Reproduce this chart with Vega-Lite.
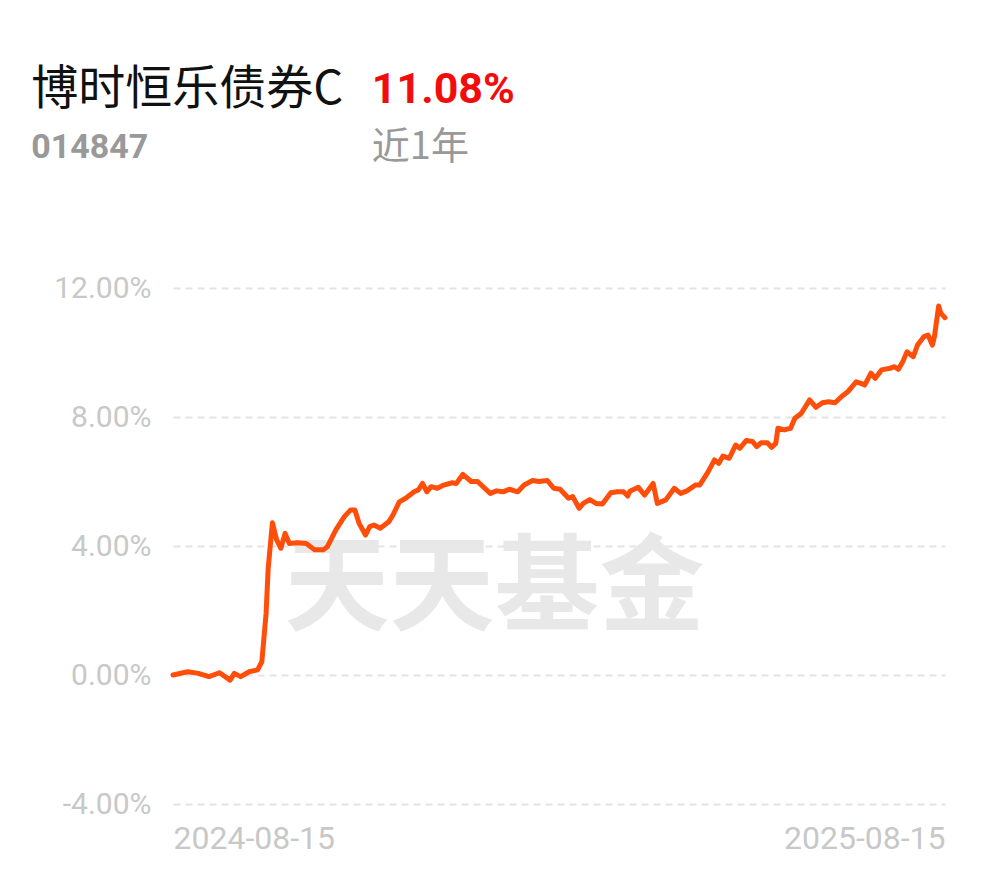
{
  "$schema": "https://vega.github.io/schema/vega-lite/v6.json",
  "autosize": "none",
  "width": 772,
  "height": 516,
  "padding": {"left": 173, "top": 288, "right": 45, "bottom": 74},
  "background": "#ffffff",
  "config": {"view": {"stroke": null}, "font": "Roboto"},
  "layer": [
    {
      "data": {"values": [{"label": "天天基金"}]},
      "mark": {"type": "text", "fontSize": 105, "fontWeight": "bold", "font": "Noto Sans CJK SC", "color": "#e8e8e8", "align": "center", "baseline": "middle"},
      "encoding": {
        "x": {"datum": {"year": 2025, "month": 1, "date": 14, "utc": true}, "type": "temporal"},
        "y": {"datum": 2.65, "type": "quantitative"},
        "text": {"field": "label"}
      }
    },
    {
      "data": {"values": [
        {"date": "2024-08-15", "value": 0.00},
        {"date": "2024-08-22", "value": 0.10},
        {"date": "2024-08-27", "value": 0.05},
        {"date": "2024-09-01", "value": -0.05},
        {"date": "2024-09-06", "value": 0.07},
        {"date": "2024-09-11", "value": -0.16},
        {"date": "2024-09-13", "value": 0.05},
        {"date": "2024-09-16", "value": -0.05},
        {"date": "2024-09-20", "value": 0.10},
        {"date": "2024-09-24", "value": 0.16},
        {"date": "2024-09-26", "value": 0.41},
        {"date": "2024-09-28", "value": 1.90},
        {"date": "2024-09-29", "value": 3.30},
        {"date": "2024-10-01", "value": 4.72},
        {"date": "2024-10-03", "value": 4.19},
        {"date": "2024-10-05", "value": 3.93},
        {"date": "2024-10-07", "value": 4.39},
        {"date": "2024-10-09", "value": 4.08},
        {"date": "2024-10-13", "value": 4.10},
        {"date": "2024-10-17", "value": 4.08},
        {"date": "2024-10-21", "value": 3.88},
        {"date": "2024-10-25", "value": 3.88},
        {"date": "2024-10-27", "value": 3.98},
        {"date": "2024-10-31", "value": 4.50},
        {"date": "2024-11-04", "value": 4.91},
        {"date": "2024-11-07", "value": 5.12},
        {"date": "2024-11-09", "value": 5.12},
        {"date": "2024-11-11", "value": 4.70},
        {"date": "2024-11-14", "value": 4.34},
        {"date": "2024-11-16", "value": 4.60},
        {"date": "2024-11-18", "value": 4.65},
        {"date": "2024-11-21", "value": 4.55},
        {"date": "2024-11-25", "value": 4.75},
        {"date": "2024-11-27", "value": 4.96},
        {"date": "2024-11-30", "value": 5.37},
        {"date": "2024-12-03", "value": 5.48},
        {"date": "2024-12-07", "value": 5.68},
        {"date": "2024-12-09", "value": 5.74},
        {"date": "2024-12-11", "value": 5.94},
        {"date": "2024-12-13", "value": 5.68},
        {"date": "2024-12-15", "value": 5.84},
        {"date": "2024-12-18", "value": 5.79},
        {"date": "2024-12-21", "value": 5.89},
        {"date": "2024-12-25", "value": 5.96},
        {"date": "2024-12-27", "value": 5.94},
        {"date": "2024-12-30", "value": 6.22},
        {"date": "2025-01-03", "value": 6.00},
        {"date": "2025-01-06", "value": 6.00},
        {"date": "2025-01-12", "value": 5.63},
        {"date": "2025-01-15", "value": 5.71},
        {"date": "2025-01-18", "value": 5.68},
        {"date": "2025-01-21", "value": 5.76},
        {"date": "2025-01-25", "value": 5.68},
        {"date": "2025-01-28", "value": 5.89},
        {"date": "2025-02-01", "value": 6.03},
        {"date": "2025-02-04", "value": 6.00},
        {"date": "2025-02-08", "value": 6.03},
        {"date": "2025-02-11", "value": 5.79},
        {"date": "2025-02-14", "value": 5.76},
        {"date": "2025-02-18", "value": 5.48},
        {"date": "2025-02-20", "value": 5.53},
        {"date": "2025-02-23", "value": 5.17},
        {"date": "2025-02-25", "value": 5.32},
        {"date": "2025-02-28", "value": 5.44},
        {"date": "2025-03-03", "value": 5.32},
        {"date": "2025-03-06", "value": 5.30},
        {"date": "2025-03-10", "value": 5.65},
        {"date": "2025-03-13", "value": 5.68},
        {"date": "2025-03-16", "value": 5.68},
        {"date": "2025-03-18", "value": 5.55},
        {"date": "2025-03-19", "value": 5.70},
        {"date": "2025-03-23", "value": 5.82},
        {"date": "2025-03-26", "value": 5.58},
        {"date": "2025-03-30", "value": 5.94},
        {"date": "2025-04-01", "value": 5.32},
        {"date": "2025-04-05", "value": 5.43},
        {"date": "2025-04-09", "value": 5.79},
        {"date": "2025-04-12", "value": 5.63},
        {"date": "2025-04-15", "value": 5.71},
        {"date": "2025-04-19", "value": 5.89},
        {"date": "2025-04-21", "value": 5.89},
        {"date": "2025-04-25", "value": 6.30},
        {"date": "2025-04-28", "value": 6.67},
        {"date": "2025-04-30", "value": 6.56},
        {"date": "2025-05-02", "value": 6.79},
        {"date": "2025-05-05", "value": 6.72},
        {"date": "2025-05-08", "value": 7.13},
        {"date": "2025-05-10", "value": 7.03},
        {"date": "2025-05-13", "value": 7.27},
        {"date": "2025-05-16", "value": 7.24},
        {"date": "2025-05-18", "value": 7.08},
        {"date": "2025-05-20", "value": 7.20},
        {"date": "2025-05-23", "value": 7.20},
        {"date": "2025-05-25", "value": 7.06},
        {"date": "2025-05-27", "value": 7.18},
        {"date": "2025-05-28", "value": 7.65},
        {"date": "2025-05-31", "value": 7.60},
        {"date": "2025-06-03", "value": 7.65},
        {"date": "2025-06-05", "value": 7.96},
        {"date": "2025-06-08", "value": 8.11},
        {"date": "2025-06-12", "value": 8.53},
        {"date": "2025-06-15", "value": 8.30},
        {"date": "2025-06-18", "value": 8.44},
        {"date": "2025-06-21", "value": 8.47},
        {"date": "2025-06-24", "value": 8.44},
        {"date": "2025-06-27", "value": 8.63},
        {"date": "2025-06-30", "value": 8.78},
        {"date": "2025-07-04", "value": 9.09},
        {"date": "2025-07-06", "value": 9.05},
        {"date": "2025-07-08", "value": 8.99},
        {"date": "2025-07-11", "value": 9.36},
        {"date": "2025-07-13", "value": 9.20},
        {"date": "2025-07-16", "value": 9.46},
        {"date": "2025-07-20", "value": 9.51},
        {"date": "2025-07-22", "value": 9.56},
        {"date": "2025-07-24", "value": 9.48},
        {"date": "2025-07-26", "value": 9.71},
        {"date": "2025-07-28", "value": 10.02},
        {"date": "2025-07-31", "value": 9.87},
        {"date": "2025-08-02", "value": 10.23},
        {"date": "2025-08-05", "value": 10.49},
        {"date": "2025-08-07", "value": 10.54},
        {"date": "2025-08-09", "value": 10.23},
        {"date": "2025-08-10", "value": 10.49},
        {"date": "2025-08-12", "value": 11.44},
        {"date": "2025-08-13", "value": 11.22},
        {"date": "2025-08-15", "value": 11.08}
      ]},
      "mark": {"type": "line", "color": "#ff4d0a", "strokeWidth": 5, "strokeJoin": "round", "strokeCap": "round"},
      "encoding": {
        "x": {
          "field": "date",
          "type": "temporal",
          "scale": {"type": "utc", "domain": [{"year": 2024, "month": 8, "date": 15, "utc": true}, {"year": 2025, "month": 8, "date": 15, "utc": true}]},
          "axis": {
            "title": null,
            "values": [{"year": 2024, "month": 8, "date": 15, "utc": true}, {"year": 2025, "month": 8, "date": 15, "utc": true}],
            "labelExpr": "utcFormat(datum.value, '%Y-%m-%d')",
            "labelFlush": true,
            "grid": false,
            "domain": false,
            "ticks": false,
            "labelFont": "Roboto",
            "labelFontSize": 32,
            "labelColor": "#c8c8c8",
            "labelPadding": 19
          }
        },
        "y": {
          "field": "value",
          "type": "quantitative",
          "scale": {"domain": [-4, 12], "nice": false, "zero": false},
          "axis": {
            "title": null,
            "values": [-4, 0, 4, 8, 12],
            "labelExpr": "(datum.value < 0 ? '-' : '') + format(abs(datum.value), '.2f') + '%'",
            "grid": true,
            "gridDash": [7, 5],
            "gridColor": "#e4e4e4",
            "gridWidth": 2,
            "domain": false,
            "ticks": false,
            "labelFont": "Roboto",
            "labelFontSize": 30,
            "labelColor": "#c8c8c8",
            "labelPadding": 22
          }
        }
      }
    },
    {
      "data": {"values": [{"label": "博时恒乐债券C"}]},
      "mark": {"type": "text", "fontSize": 47, "font": "Noto Sans CJK SC", "color": "#111111", "align": "left", "baseline": "alphabetic"},
      "encoding": {
        "x": {"datum": {"year": 2024, "month": 6, "date": 9, "utc": true}, "type": "temporal"},
        "y": {"datum": 17.7, "type": "quantitative"},
        "text": {"field": "label"}
      }
    },
    {
      "data": {"values": [{"label": "11.08%"}]},
      "mark": {"type": "text", "fontSize": 43, "fontWeight": "bold", "font": "Roboto", "color": "#f20d0d", "align": "left", "baseline": "alphabetic"},
      "encoding": {
        "x": {"datum": {"year": 2024, "month": 11, "date": 17, "utc": true}, "type": "temporal"},
        "y": {"datum": 17.75, "type": "quantitative"},
        "text": {"field": "label"}
      }
    },
    {
      "data": {"values": [{"label": "014847"}]},
      "mark": {"type": "text", "fontSize": 34, "fontWeight": "bold", "font": "Roboto", "color": "#999999", "align": "left", "baseline": "alphabetic"},
      "encoding": {
        "x": {"datum": {"year": 2024, "month": 6, "date": 9, "utc": true}, "type": "temporal"},
        "y": {"datum": 16.03, "type": "quantitative"},
        "text": {"field": "label"}
      }
    },
    {
      "data": {"values": [{"label": "近1年"}]},
      "mark": {"type": "text", "fontSize": 38, "font": "Noto Sans CJK SC", "color": "#999999", "align": "left", "baseline": "alphabetic"},
      "encoding": {
        "x": {"datum": {"year": 2024, "month": 11, "date": 17, "utc": true}, "type": "temporal"},
        "y": {"datum": 16.0, "type": "quantitative"},
        "text": {"field": "label"}
      }
    }
  ]
}
